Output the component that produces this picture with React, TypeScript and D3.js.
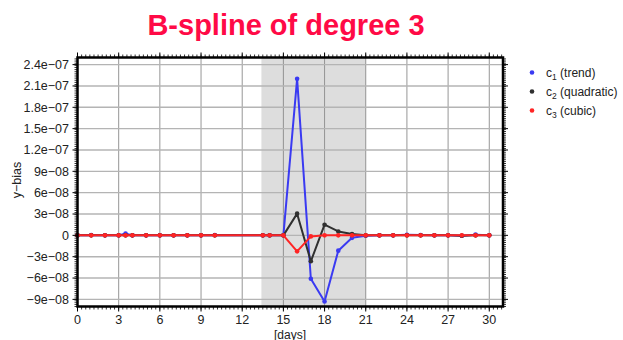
import React from "react";
import * as d3 from "d3";

// Sample days (x) and the three B-spline coefficient series
const days = [0, 1, 2, 3, 3.5, 4, 5, 6, 7, 8, 9, 10, 13.5, 14, 15, 16, 17, 18, 19, 20, 21, 22, 23, 24, 25, 26, 27, 28, 29, 30];
const trend = [0, 5e-10, 0, 0, 2.5e-9, 0, 0, 0, 0, 0, 0, 5e-10, 0, 0, 0, 2.2e-7, -6.1e-8, -9.3e-8, -2.15e-8, -3.5e-9, -5e-10, 0, 0, 8e-10, 5e-10, 0, 0, -5e-10, 1e-9, 0];
const quadratic = [0, 0, 0, 0, 0, 0, 0, 0, 0, 0, 0, 0, 0, 0, 0, 3.05e-8, -3.65e-8, 1.5e-8, 5.5e-9, 2e-9, 0, 0, 0, 0, 0, 0, 0, -5e-10, 0, 0];
const cubic = [0, 0, 0, 0, 0, 0, 0, 0, 0, 0, 0, 0, 0, 0, 0, -2.25e-8, -1.5e-9, 0, 0, 0, 0, 0, 0, 0, 0, 0, 0, 0, 0, 0];

const xTicks = [0, 3, 6, 9, 12, 15, 18, 21, 24, 27, 30];
const yTicks = [-9e-8, -6e-8, -3e-8, 0, 3e-8, 6e-8, 9e-8, 1.2e-7, 1.5e-7, 1.8e-7, 2.1e-7, 2.4e-7];
const yTickLabels = ["−9e−08", "−6e−08", "−3e−08", "0", "3e−08", "6e−08", "9e−08", "1.2e−07", "1.5e−07", "1.8e−07", "2.1e−07", "2.4e−07"];
const shadeRange = [13.4, 21];

const seriesNames = ["trend", "quadratic", "cubic"];
const seriesColors = ["#3a3af2", "#303030", "#ff2424"];

const W = 623;
const H = 340;
const font = "'Liberation Sans', Arial, Helvetica, sans-serif";

export default function App() {
  const x = d3.scaleLinear().domain([0, 31]).range([77.5, 503]);
  const y = d3.scaleLinear().domain([-1e-7, 2.5e-7]).range([306.5, 57.5]);
  const [x0, x1] = x.range();
  const [y0, y1] = [y(-1e-7), y(2.5e-7)];

  const allSeries = [trend, quadratic, cubic];
  const line = d3
    .line<[number, number]>()
    .x((d) => x(d[0]))
    .y((d) => y(d[1]));

  const xMinor = d3.range(0, 31.001, 0.3);
  const yMinor = d3.range(-1e-7, 2.5e-7 + 1e-12, 3e-9);

  return (
    <svg width={W} height={H} style={{ display: "block", position: "absolute", left: 0, top: 0 }} fontFamily={font}>
      <rect width={W} height={H} fill="#fff" />
      <text x={286} y={35} textAnchor="middle" fontSize={29} fontWeight="bold" fill="#ff0a46">
        B-spline of degree 3
      </text>

      {/* shaded interval */}
      <rect x={x(shadeRange[0])} y={y1} width={x(shadeRange[1]) - x(shadeRange[0])} height={y0 - y1} fill="#dddddd" />

      {/* grid */}
      {xTicks.map((t) => (
        <line key={"gx" + t} x1={x(t)} x2={x(t)} y1={y1} y2={y0} stroke="#8a8a8a" strokeWidth={0.9} />
      ))}
      {yTicks.map((t) => (
        <line key={"gy" + t} x1={x0} x2={x1} y1={y(t)} y2={y(t)} stroke="#b4b4b4" strokeWidth={1.4} />
      ))}

      {/* series */}
      {allSeries.map((s, i) => {
        const pts = days.map((d, j) => [d, s[j]] as [number, number]);
        return (
          <g key={seriesNames[i]}>
            <path d={line(pts) || ""} fill="none" stroke={seriesColors[i]} strokeWidth={2} strokeLinejoin="round" />
            {pts.map((p, j) => (
              <circle key={j} cx={x(p[0])} cy={y(p[1])} r={2.3} fill={seriesColors[i]} />
            ))}
          </g>
        );
      })}

      {/* frame ticks */}
      {xMinor.map((t, i) => (
        <g key={"xm" + i} stroke="#000" strokeWidth={0.8}>
          <line x1={x(t)} x2={x(t)} y1={y0} y2={y0 + 3} />
          <line x1={x(t)} x2={x(t)} y1={y1} y2={y1 - 3} />
        </g>
      ))}
      {xTicks.map((t) => (
        <g key={"xM" + t} stroke="#000" strokeWidth={1}>
          <line x1={x(t)} x2={x(t)} y1={y0} y2={y0 + 5} />
          <line x1={x(t)} x2={x(t)} y1={y1} y2={y1 - 5} />
        </g>
      ))}
      {yMinor.map((t, i) => (
        <g key={"ym" + i} stroke="#000" strokeWidth={0.8}>
          <line x1={x0} x2={x0 - 3} y1={y(t)} y2={y(t)} />
          <line x1={x1} x2={x1 + 3} y1={y(t)} y2={y(t)} />
        </g>
      ))}
      {yTicks.map((t) => (
        <g key={"yM" + t} stroke="#000" strokeWidth={1}>
          <line x1={x0} x2={x0 - 5} y1={y(t)} y2={y(t)} />
          <line x1={x1} x2={x1 + 5} y1={y(t)} y2={y(t)} />
        </g>
      ))}
      <rect x={x0} y={y1} width={x1 - x0} height={y0 - y1} fill="none" stroke="#000" strokeWidth={2.5} />

      {/* tick labels */}
      {xTicks.map((t) => (
        <text key={"xl" + t} x={x(t)} y={324} textAnchor="middle" fontSize={12.5} fill="#222">
          {t}
        </text>
      ))}
      {yTicks.map((t, i) => (
        <text key={"yl" + t} x={69} y={y(t) + 4.3} textAnchor="end" fontSize={12.5} fill="#222">
          {yTickLabels[i]}
        </text>
      ))}
      <text x={290} y={338.5} textAnchor="middle" fontSize={12} fill="#222">
        [days]
      </text>
      <text transform={`translate(21,180) rotate(-90)`} textAnchor="middle" fontSize={12.5} fill="#222">
        y−bias
      </text>

      {/* legend */}
      {seriesNames.map((n, i) => (
        <g key={"lg" + n} transform={`translate(532,${72.5 + i * 19})`}>
          <circle r={2.3} fill={seriesColors[i]} />
          <text x={14} y={4} fontSize={12} fill="#222">
            c
            <tspan fontSize={8.5} dy={3}>
              {i + 1}
            </tspan>
            <tspan dy={-3}> ({n})</tspan>
          </text>
        </g>
      ))}
    </svg>
  );
}
